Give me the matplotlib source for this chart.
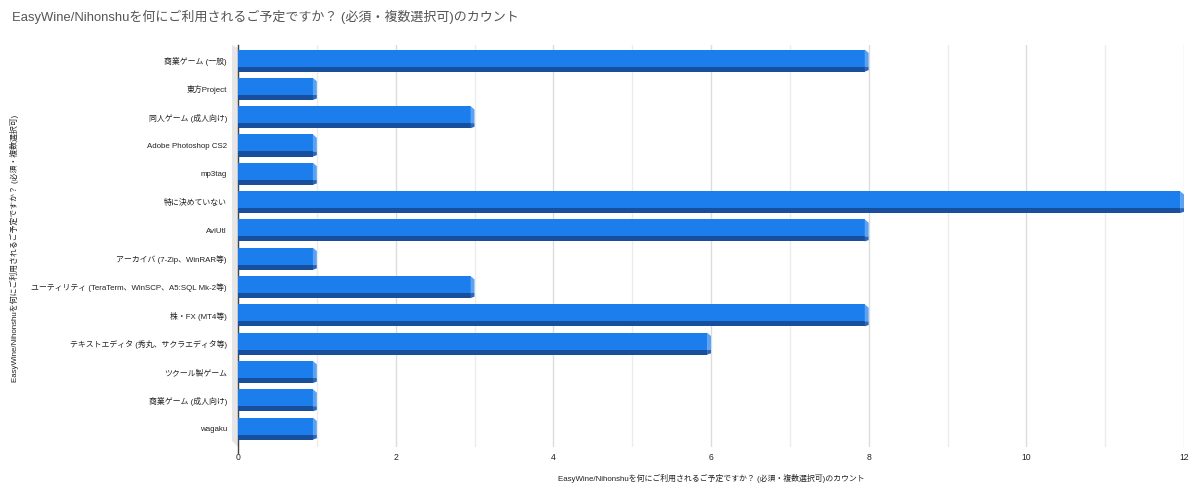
import matplotlib
matplotlib.use('Agg')
import matplotlib.pyplot as plt
from matplotlib.patches import Polygon
import numpy as np

plt.rcParams['font.family'] = ['Liberation Sans', 'Noto Sans CJK JP', 'DejaVu Sans']

# --- données ---
categories = [
    '商業ゲーム (一般)',
    '東方Project',
    '同人ゲーム (成人向け)',
    'Adobe Photoshop CS2',
    'mp3tag',
    '特に決めていない',
    'AviUtl',
    'アーカイバ (7-Zip、WinRAR等)',
    'ユーティリティ (TeraTerm、WinSCP、A5:SQL Mk-2等)',
    '株・FX (MT4等)',
    'テキストエディタ (秀丸、サクラエディタ等)',
    'ツクール製ゲーム',
    '商業ゲーム (成人向け)',
    'wagaku',
]
counts = [8, 1, 3, 1, 1, 12, 8, 1, 3, 8, 6, 1, 1, 1]
x_ticks = [0, 2, 4, 6, 8, 10, 12]

titre = 'EasyWine/Nihonshuを何にご利用されるご予定ですか？ (必須・複数選択可)のカウント'
label_y = 'EasyWine/Nihonshuを何にご利用されるご予定ですか？ (必須・複数選択可)'

W, H = 1200, 491
fig = plt.figure(figsize=(W / 100, H / 100), dpi=100)
L, R, T, B = 238, 1184, 45, 447
ax = fig.add_axes([L / W, 1 - B / H, (R - L) / W, (B - T) / H])

y = np.arange(len(categories))
vals = np.array(counts, dtype=float)

c_face = '#1c7ded'
c_dark = '#184f9c'
c_end = '#5aa2f3'

d = 0.05      # profondeur horizontale (en unités)
half = 0.39   # demi-hauteur de la barre
split = 0.21  # limite face / bande sombre
x0 = -0.045

# face principale
ax.barh(y - half + (split + half) / 2, vals - d - x0, left=x0,
        height=split + half, color=c_face, zorder=3, linewidth=0)
# bande sombre en bas
ax.barh(y + split + (half - split) / 2, vals - d - x0, left=x0,
        height=half - split, color=c_dark, zorder=3, linewidth=0)
# extrémité droite
for yi, v in zip(y, vals):
    ax.add_patch(Polygon([(v - d, yi - half), (v, yi - half + 0.12),
                          (v, yi + split), (v - d, yi + split)],
                         closed=True, color=c_end, zorder=3, linewidth=0))
    ax.add_patch(Polygon([(v - d, yi + split), (v, yi + split),
                          (v, yi + half - 0.05), (v - d, yi + half)],
                         closed=True, color='#2b66bd', zorder=3, linewidth=0))

ax.set_xlim(0, 12)
ax.set_ylim(len(categories) - 1 + 0.65, -0.55)

ax.set_xticks(x_ticks)
ax.set_xticks(range(0, 13), minor=True)
ax.grid(which='minor', axis='x', color='#ececec', linewidth=1, zorder=0)
ax.grid(which='major', axis='x', color='#dcdcdc', linewidth=1, zorder=0)
ax.set_axisbelow(True)
ax.axvline(0, color='#444444', linewidth=1, zorder=1, ymin=-0.015, clip_on=False)

ax.set_yticks(y)
ax.set_yticklabels(categories)
ax.tick_params(axis='both', which='both', length=0, labelsize=5.7, colors='#222222')
ax.tick_params(axis='x', labelsize=6.2, pad=4)
ax.tick_params(axis='y', pad=8)
for s in ax.spines.values():
    s.set_visible(False)

# paroi grise à gauche (effet 3D)
w = 6 / (R - L)
ax.add_patch(Polygon([(-w, 1.0), (0, 1 - 3 / (B - T)), (0, 0), (-w, 6 / (B - T))],
                     closed=True, transform=ax.transAxes, color='#e6e6e6',
                     clip_on=False, zorder=0.5, linewidth=0))

ax.set_xlabel(label_y + 'のカウント', fontsize=5.7, color='#222222', labelpad=9)
fig.text(14 / W, 1 - 248 / H, label_y, rotation=90, fontsize=5.7,
         color='#222222', ha='center', va='center')
fig.text(12 / W, 1 - 17 / H, titre, fontsize=9.4, color='#555555',
         ha='left', va='center')

fig.savefig('out.png', dpi=100)
